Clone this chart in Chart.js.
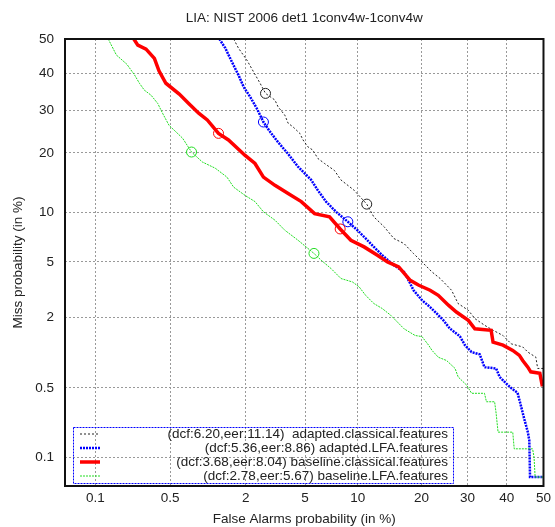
<!DOCTYPE html>
<html>
<head>
<meta charset="utf-8">
<script src="https://cdn.jsdelivr.net/npm/chart.js@4/dist/chart.umd.min.js"></script>
<style>
  html, body { margin: 0; padding: 0; background: #fff; }
  canvas { display: block; }
</style>
</head>
<body>
<canvas id="detChart" width="555" height="527"></canvas>
<script>
// DET curves, values in % : [false alarm, miss]
const tickValues = [0.1, 0.5, 2, 5, 10, 20, 30, 40, 50];
const axisMin = 0.0483;
const axisMax = 50;

const seriesNames = ["adapted.classical.features", "adapted.LFA.features", "baseline.classical.features", "baseline.LFA.features"];
const legendLabels = [
  "(dcf:6.20,eer:11.14)  adapted.classical.features",
  "(dcf:5.36,eer:8.86) adapted.LFA.features",
  "(dcf:3.68,eer:8.04) baseline.classical.features",
  "(dcf:2.78,eer:5.67) baseline.LFA.features"
];
const eerValues = [11.14, 8.86, 8.04, 5.67];
// operating points of the min dcf, [fa, miss]
const dcfPoints = [[2.76, 34.4], [2.67, 27.0], [1.25, 24.3], [0.76, 20.2]];

const adaptedClassical = [
  [1.63, 50], [1.77, 47.3], [2.04, 43.8], [2.27, 40.5], [2.53, 37.2], [2.76, 34.4], [3.20, 32.6],
  [3.36, 30.8], [3.72, 28.7], [3.91, 26.7], [4.21, 25.8], [4.64, 24.3], [4.86, 22.8], [5.21, 21.3],
  [5.58, 20.6], [5.98, 18.9], [6.55, 17.9], [7.46, 16.6], [8.12, 14.9], [9.58, 13.2], [11.14, 11.14],
  [12.1, 9.45], [13.6, 8.27], [15.1, 7.04], [16.8, 6.55], [18.5, 5.66], [20.1, 4.99], [22.1, 4.27],
  [23.8, 3.85], [26.3, 3.18], [27.8, 2.54], [30.2, 2.26], [31.8, 1.95], [34.2, 1.73], [36.4, 1.575],
  [39.0, 1.43], [41.2, 1.22], [44.3, 1.15], [45.7, 1.04], [47.9, 0.94], [48.4, 0.75], [50, 0.75]
];
const adaptedLFA = [
  [1.27, 50], [1.41, 47.3], [1.58, 43.3], [1.77, 39.5], [1.93, 36.2], [2.15, 33.5], [2.40, 30.4],
  [2.67, 27.0], [2.96, 24.7], [3.36, 22.3], [3.91, 19.8], [4.52, 17.3], [5.46, 14.9], [5.98, 13.2],
  [6.68, 11.5], [7.62, 10.1], [8.86, 8.86], [9.97, 7.9], [11.0, 7.04], [12.1, 6.24], [13.3, 5.52],
  [15.1, 4.75], [16.8, 4.27], [17.6, 3.74], [18.5, 3.18], [20.1, 2.69], [21.7, 2.39], [23.1, 2.13],
  [24.5, 1.89], [25.9, 1.63], [28.2, 1.41], [29.4, 1.19], [31.0, 1.04], [33.0, 0.995], [34.2, 0.77],
  [37.2, 0.75], [38.1, 0.63], [40.3, 0.53], [41.6, 0.485], [42.9, 0.45], [43.8, 0.34], [44.7, 0.253],
  [45.7, 0.185], [46.1, 0.152], [46.3, 0.061], [50, 0.061]
];
const baselineClassical = [
  [0.236, 50], [0.257, 48.2], [0.306, 47.0], [0.364, 44.3], [0.40, 40.7], [0.46, 37.2], [0.60, 34.2],
  [0.72, 31.7], [0.87, 29.2], [1.02, 27.5], [1.25, 24.3], [1.49, 22.8], [1.98, 19.5], [2.33, 17.9],
  [2.67, 15.4], [3.20, 14.0], [3.91, 12.7], [4.74, 11.5], [5.72, 9.87], [7.0, 9.45], [8.04, 8.04],
  [9.2, 6.87], [10.8, 6.24], [12.6, 5.52], [14.1, 4.99], [15.9, 4.62], [17.9, 3.74], [19.5, 3.45],
  [21.7, 3.18], [23.4, 2.92], [25.6, 2.47], [27.4, 2.19], [30.2, 1.89], [31.8, 1.62], [35.9, 1.575],
  [36.4, 1.26], [39.0, 1.19], [41.6, 1.075], [43.4, 0.975], [44.3, 0.88], [45.7, 0.77], [46.5, 0.70],
  [49.0, 0.68], [49.7, 0.516]
];
const baselineLFA = [
  [0.134, 50], [0.161, 45.3], [0.203, 42.6], [0.24, 39.5], [0.266, 37.2], [0.295, 35.3], [0.34, 33.9],
  [0.39, 31.7], [0.43, 29.2], [0.49, 26.2], [0.64, 23.2], [0.76, 20.2], [0.93, 18.2], [1.18, 17.0],
  [1.45, 15.4], [1.63, 13.7], [1.98, 12.4], [2.33, 11.5], [2.67, 10.1], [3.2, 9.05], [3.72, 7.9],
  [4.52, 6.87], [5.67, 5.67], [6.26, 5.12], [7.15, 4.5], [8.12, 3.85], [9.39, 3.64], [10.18, 3.36],
  [11.0, 2.92], [12.1, 2.54], [13.3, 2.33], [14.6, 2.07], [16.8, 1.62], [18.8, 1.43], [20.1, 1.40],
  [21.4, 1.19], [22.1, 1.075], [23.4, 0.94], [25.2, 0.88], [27.1, 0.75], [27.8, 0.63], [29.8, 0.53],
  [31.0, 0.445], [34.2, 0.445], [34.7, 0.37], [36.8, 0.37], [37.2, 0.285], [37.7, 0.185], [41.6, 0.185],
  [42.0, 0.124], [47.0, 0.124], [47.4, 0.101], [47.7, 0.061], [50, 0.061]
];

const curves = [adaptedClassical, adaptedLFA, baselineClassical, baselineLFA];
const colors = ["#222222", "#0000ff", "#ff0000", "#22dd22"];
const widths = [1, 2.5, 3.5, 1];
const dashes = [[2, 2], [2, 1], [], [2, 1]];
const drawOrder = [4, 3, 1, 2];

const FONT = "'Liberation Sans', Arial, Helvetica, sans-serif";

// inverse normal cdf (Acklam)
function probit(p) {
  const a = [-39.69683028665376, 220.9460984245205, -275.9285104469687, 138.3577518672690, -30.66479806614716, 2.506628277459239];
  const b = [-54.47609879822406, 161.5858368580409, -155.6989798598866, 66.80131188771972, -13.28068155288572];
  const c = [-0.007784894002430293, -0.3223964580411365, -2.400758277161838, -2.549732539343734, 4.374664141464968, 2.938163982698783];
  const d = [0.007784695709041462, 0.3224671290700398, 2.445134137142996, 3.754408661907416];
  const pl = 0.02425;
  let q, r;
  if (p < pl) {
    q = Math.sqrt(-2 * Math.log(p));
    return (((((c[0] * q + c[1]) * q + c[2]) * q + c[3]) * q + c[4]) * q + c[5]) / ((((d[0] * q + d[1]) * q + d[2]) * q + d[3]) * q + 1);
  }
  if (p > 1 - pl) {
    q = Math.sqrt(-2 * Math.log(1 - p));
    return -(((((c[0] * q + c[1]) * q + c[2]) * q + c[3]) * q + c[4]) * q + c[5]) / ((((d[0] * q + d[1]) * q + d[2]) * q + d[3]) * q + 1);
  }
  q = p - 0.5;
  r = q * q;
  return (((((a[0] * r + a[1]) * r + a[2]) * r + a[3]) * r + a[4]) * r + a[5]) * q / (((((b[0] * r + b[1]) * r + b[2]) * r + b[3]) * r + b[4]) * r + 1);
}

// normal deviate scale for DET plots
class ProbitScale extends Chart.Scale {
  determineDataLimits() {
    this.min = this.options.min;
    this.max = this.options.max;
  }
  buildTicks() {
    return this.options.tickValues.map(v => ({ value: v }));
  }
  configure() {
    super.configure();
    this._lo = probit(this.min / 100);
    this._hi = probit(this.max / 100);
  }
  getLabelForValue(v) {
    return String(v);
  }
  getPixelForValue(v) {
    return this.getPixelForDecimal((probit(v / 100) - this._lo) / (this._hi - this._lo));
  }
  getValueForPixel(px) {
    return null;
  }
}
ProbitScale.id = "probit";
ProbitScale.defaults = {};
Chart.register(ProbitScale);

const toXY = arr => arr.map(p => ({ x: p[0], y: p[1] }));

const datasets = [];
curves.forEach((c, i) => {
  datasets.push({
    label: seriesNames[i],
    data: toXY(c),
    borderColor: colors[i],
    borderWidth: widths[i],
    borderDash: dashes[i],
    pointRadius: 0,
    fill: false,
    order: drawOrder[i]
  });
});
curves.forEach((c, i) => {
  datasets.push({
    label: seriesNames[i] + " points",
    data: toXY([dcfPoints[i], [eerValues[i], eerValues[i]]]),
    showLine: false,
    pointStyle: "circle",
    pointRadius: 5,
    pointBorderWidth: 1,
    pointBorderColor: colors[i],
    pointBackgroundColor: "rgba(0,0,0,0)",
    order: 0
  });
});

const framePlugin = {
  id: "frame",
  afterDraw(chart) {
    const ctx = chart.ctx;
    const a = chart.chartArea;
    ctx.save();
    ctx.strokeStyle = "#111";
    ctx.lineWidth = 2;
    ctx.setLineDash([]);
    ctx.strokeRect(a.left, a.top, a.right - a.left, a.bottom - a.top);

    // title
    ctx.fillStyle = "#222";
    ctx.font = "13.5px " + FONT;
    ctx.textAlign = "center";
    ctx.textBaseline = "middle";
    ctx.fillText("LIA: NIST 2006 det1 1conv4w-1conv4w", (a.left + a.right) / 2, 18);

    // key box
    const bx = 73, by = 427, bw = 380, bh = 56;
    ctx.strokeStyle = "#0000ff";
    ctx.lineWidth = 1;
    ctx.setLineDash([2, 1]);
    ctx.strokeRect(bx + 0.5, by + 0.5, bw, bh);
    ctx.textAlign = "right";
    legendLabels.forEach((t, i) => {
      const y = 434 + i * 14;
      ctx.strokeStyle = colors[i];
      ctx.lineWidth = widths[i];
      ctx.setLineDash(dashes[i]);
      ctx.beginPath();
      ctx.moveTo(80, y);
      ctx.lineTo(100, y);
      ctx.stroke();
      ctx.fillStyle = "#222";
      ctx.fillText(t, 448, y);
    });
    ctx.restore();
  }
};

const tickFont = { family: FONT, size: 13.5 };

new Chart(document.getElementById("detChart"), {
  type: "line",
  data: { datasets },
  options: {
    responsive: false,
    animation: false,
    events: [],
    layout: { padding: { top: 39, right: 7.3, left: 0, bottom: 0 } },
    plugins: { legend: { display: false }, title: { display: false }, tooltip: { enabled: false } },
    scales: {
      x: {
        type: "probit",
        position: "bottom",
        min: axisMin,
        max: axisMax,
        tickValues: tickValues,
        grid: { color: "#999", lineWidth: 1, drawTicks: false },
        border: { display: false, dash: [2, 2] },
        ticks: { font: tickFont, color: "#222", padding: 4, maxRotation: 0, autoSkip: false },
        title: { display: true, text: "False Alarms probability (in %)", font: tickFont, color: "#222", padding: { top: 0, bottom: 0 } },
        afterFit(s) { s.height = 41; }
      },
      y: {
        type: "probit",
        position: "left",
        min: axisMin,
        max: axisMax,
        tickValues: tickValues,
        grid: { color: "#999", lineWidth: 1, drawTicks: false },
        border: { display: false, dash: [2, 2] },
        ticks: { font: tickFont, color: "#222", padding: 11, autoSkip: false },
        title: { display: true, text: "Miss probability (in %)", font: tickFont, color: "#222", padding: { top: 10, bottom: 0 } },
        afterFit(s) { s.width = 65; }
      }
    }
  },
  plugins: [framePlugin]
});
</script>
</body>
</html>
